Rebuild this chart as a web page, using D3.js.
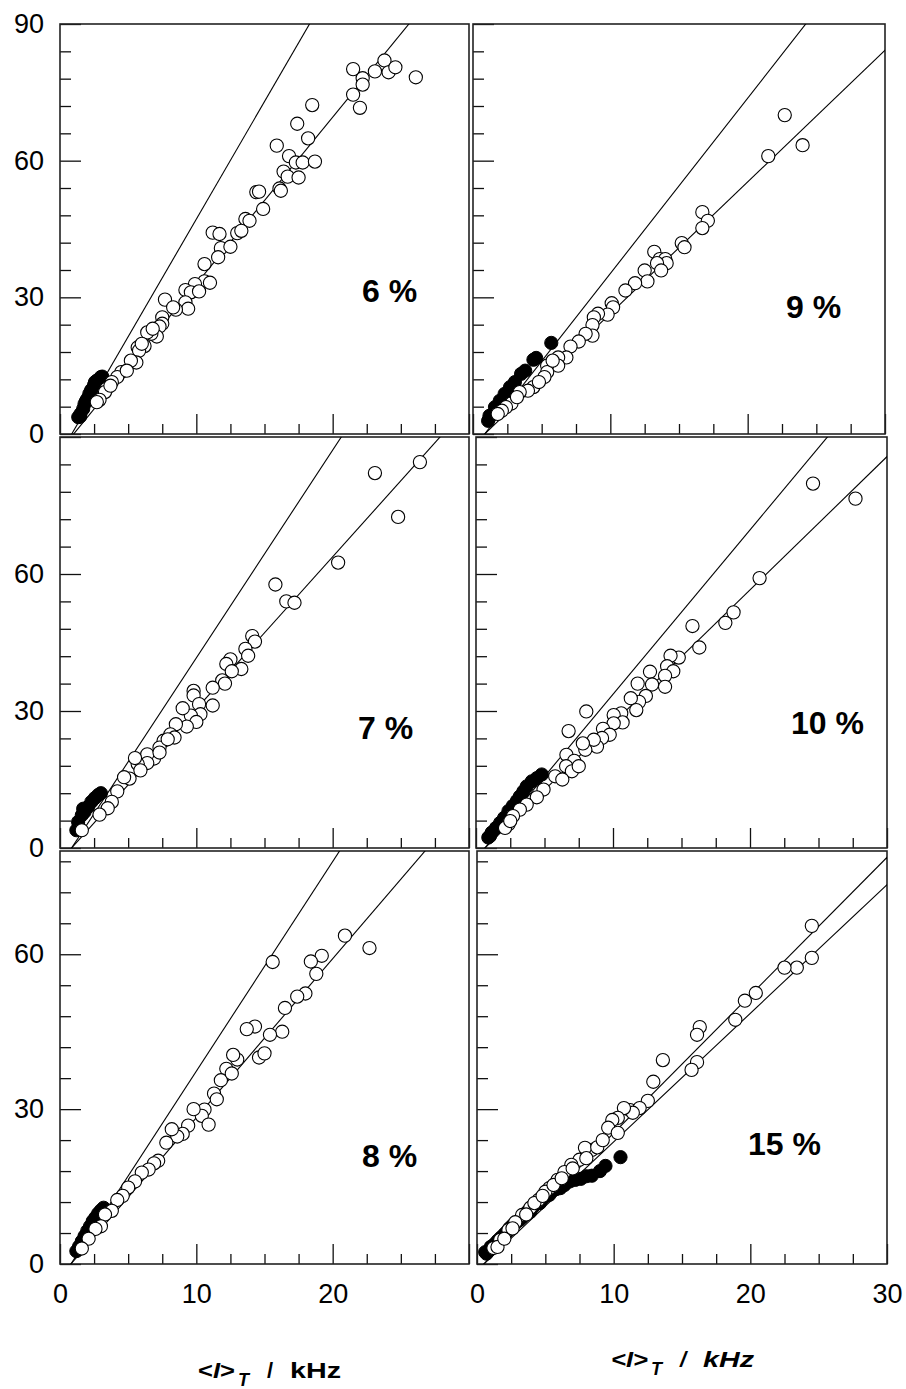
<!DOCTYPE html>
<html><head><meta charset="utf-8">
<script src="https://cdn.jsdelivr.net/npm/d3@7"></script>
<style>body{margin:0;background:#fff}svg{display:block}text{font-family:"Liberation Sans",Arial,Helvetica,sans-serif}</style>
</head><body>
<svg id="c" width="906" height="1389"></svg>
<script>
// ---------- data ----------
const panelLabels = ["6 %", "9 %", "7 %", "10 %", "8 %", "15 %"];
const xTicksMajor = [0, 10, 20, 30];
const yTicksMajor = [0, 30, 60, 90];
const rowYMax = [90, 90, 80];

// lines: y = slope * (x - x0)
const steepSlope   = [5.16, 3.85, 4.55, 3.60, 4.06, 2.67];
const steepX0      = [0.86, 0.85, 0.85, 0.65, 0.80, 0.50];
const shallowSlope = [3.66, 2.89, 3.33, 2.92, 3.08, 2.49];
const shallowX0    = [1.00, 0.85, 0.85, 0.65, 0.80, 0.50];

const open6 = [[21.5,80.1],[22.2,78.1],[22.2,76.7],[23.1,79.6],[23.8,82.0],[24.1,79.4],[24.6,80.5],[26.1,78.3],[21.5,74.5],[22.0,71.6],[18.5,72.2],[17.4,68.1],[18.2,64.9],[15.9,63.3],[16.8,61.0],[17.3,59.6],[17.8,59.6],[18.7,59.8],[16.4,57.6],[16.7,56.5],[17.5,56.3],[16.1,53.9],[16.2,53.4],[14.4,53.1],[14.6,53.2],[14.9,49.4],[13.6,47.2],[13.9,46.8],[13.0,44.1],[13.3,44.6],[11.2,44.2],[11.7,43.9],[11.8,40.8],[12.5,41.1],[11.6,38.8],[10.6,37.3],[10.6,33.5],[11.0,33.2],[9.9,32.9],[9.2,31.6],[9.6,31.1],[10.2,31.3],[7.7,29.5],[9.2,28.9],[9.4,27.5],[8.5,27.3],[8.3,27.8],[7.5,25.6],[7.5,24.2],[7.3,23.6],[7.1,21.4],[6.7,22.0],[6.4,22.3],[6.2,19.3],[5.7,19.0],[5.8,18.3],[5.6,15.7],[5.2,16.1],[4.5,13.6],[4.2,12.5],[3.8,11.4],[3.4,9.9],[3.3,9.2],[2.9,7.5],[3.7,10.6],[2.7,7.0],[4.9,13.9],[6.0,19.8],[6.8,23.1]];
const filled6 = [[1.34,3.7],[1.47,3.8],[1.5,4.4],[1.7,5.5],[1.8,6.6],[1.9,7.2],[2.0,7.7],[2.15,8.8],[2.25,9.3],[2.3,9.7],[2.5,10.8],[2.57,11.4],[2.7,11.7],[2.8,11.9],[3.0,12.5],[3.1,12.6]];

const open9 = [[22.7,70.0],[24.0,63.4],[21.5,61.0],[16.7,48.7],[17.1,46.8],[16.7,45.2],[15.2,41.9],[15.4,41.0],[13.2,40.0],[13.6,38.4],[14.0,38.4],[14.1,37.5],[13.4,37.5],[13.7,35.9],[12.5,35.9],[12.7,33.5],[11.8,33.1],[11.1,31.5],[10.1,28.7],[10.2,27.8],[9.8,26.2],[9.1,26.4],[8.8,25.6],[8.7,23.9],[8.7,21.6],[8.2,22.0],[7.7,20.3],[7.1,19.2],[6.8,16.8],[6.2,16.8],[6.2,15.0],[5.4,15.0],[5.4,13.6],[5.2,12.5],[4.4,10.3],[4.0,9.5],[3.4,9.2],[2.8,6.7],[2.4,5.9],[2.1,5.1],[1.8,4.4],[3.2,8.1],[4.8,11.4],[5.8,16.1]];
const filled9 = [[5.7,20.0],[4.6,16.7],[4.4,16.3],[3.8,13.9],[3.5,13.2],[3.05,11.4],[2.7,10.3],[2.3,8.8],[1.95,7.3],[1.6,5.9],[1.2,4.0],[1.1,2.9]];

const open7 = [[26.4,84.5],[23.1,82.1],[24.8,72.5],[20.4,62.5],[15.8,57.7],[16.6,54.0],[17.2,53.7],[14.1,46.4],[14.3,45.2],[13.6,43.6],[13.8,42.1],[13.3,39.2],[12.5,41.3],[12.2,40.3],[12.6,38.7],[11.9,36.7],[12.1,36.0],[11.2,35.1],[11.2,31.2],[9.8,34.4],[9.8,33.4],[10.2,31.5],[10.3,29.3],[9.6,29.0],[10.0,27.6],[9.0,30.6],[9.3,26.6],[8.5,27.1],[8.1,24.9],[8.4,24.2],[7.6,23.5],[7.3,22.0],[6.9,19.6],[6.4,20.5],[6.4,18.6],[5.7,18.4],[5.5,19.7],[5.9,17.0],[5.1,15.2],[4.7,15.5],[4.2,12.4],[3.8,10.1],[3.5,8.7],[2.9,7.3],[1.6,3.9],[7.3,20.9],[7.9,23.8]];
const filled7 = [[3.0,12.0],[2.8,11.6],[2.55,10.9],[2.3,10.1],[2.06,9.0],[1.8,7.9],[1.6,7.2],[1.33,5.7],[1.2,3.9],[1.7,8.6]];

const open10 = [[24.6,79.8],[27.7,76.5],[20.7,59.1],[18.8,51.6],[18.2,49.3],[15.8,48.6],[16.3,43.9],[14.8,41.7],[14.2,42.1],[13.95,39.8],[14.4,38.7],[13.8,37.7],[13.8,35.3],[12.7,38.6],[12.85,35.8],[11.8,36.0],[12.4,33.3],[11.9,32.0],[11.3,32.8],[11.7,30.2],[10.6,29.5],[10.05,29.1],[10.7,27.5],[10.05,27.3],[8.05,29.9],[6.76,25.6],[9.27,26.1],[9.76,24.8],[9.2,24.1],[8.83,22.2],[8.6,23.7],[7.98,21.5],[7.8,22.9],[6.6,20.4],[7.17,19.1],[6.58,17.9],[7.0,16.8],[7.5,17.9],[5.78,15.7],[6.3,15.0],[4.93,12.8],[4.44,11.1],[3.7,9.5],[3.2,8.4],[2.7,7.0],[2.37,5.2],[2.12,4.4],[2.5,5.9]];
const filled10 = [[4.8,16.1],[4.44,15.3],[4.07,14.6],[3.7,13.5],[3.46,12.4],[3.2,11.3],[2.98,10.3],[2.68,9.2],[2.37,8.1],[2.05,6.6],[1.76,5.5],[1.46,4.4],[1.15,3.4],[1.02,2.6],[0.9,2.3]];

const open8 = [[20.9,63.6],[22.7,61.2],[19.2,59.7],[18.4,58.6],[18.8,56.2],[18.0,52.4],[17.4,51.8],[15.6,58.5],[16.5,49.6],[16.3,45.0],[15.4,44.4],[14.3,46.0],[13.7,45.5],[13.0,39.6],[12.7,40.5],[12.2,37.8],[11.8,35.6],[12.6,36.9],[11.3,33.0],[11.5,31.9],[10.6,29.9],[10.4,28.7],[9.8,30.0],[9.4,26.8],[9.0,25.2],[8.6,24.7],[8.2,26.1],[7.8,23.5],[7.2,20.0],[6.9,19.5],[6.5,18.3],[6.0,17.7],[5.5,16.0],[5.0,14.8],[4.6,13.2],[4.2,12.4],[3.8,10.3],[3.3,9.6],[3.0,7.3],[2.6,6.8],[2.1,4.9],[1.6,3.0],[10.9,27.0],[14.6,40.0],[15.0,40.8]];
const filled8 = [[1.2,2.5],[1.4,3.4],[1.6,4.4],[1.8,5.4],[2.0,6.4],[2.2,7.3],[2.4,8.3],[2.6,9.0],[2.8,9.8],[3.0,10.4],[3.2,10.9]];

const open15 = [[24.5,65.5],[24.5,59.3],[23.4,57.4],[22.5,57.4],[20.4,52.5],[19.6,51.0],[18.9,47.3],[16.3,45.9],[16.1,44.4],[16.1,39.1],[15.7,37.6],[13.6,39.5],[12.9,35.3],[11.2,29.8],[12.5,31.6],[11.9,30.2],[11.4,29.3],[10.75,30.2],[10.3,28.3],[9.9,27.9],[9.6,26.4],[10.3,25.4],[8.4,22.1],[7.9,22.5],[7.5,20.2],[6.9,19.2],[6.4,17.8],[5.9,16.3],[5.3,14.7],[5.0,14.0],[4.5,12.4],[3.9,10.9],[3.3,9.5],[2.8,8.1],[2.3,6.6],[1.7,4.7],[1.2,3.1],[1.5,3.3],[2.0,4.9],[2.6,6.9],[3.6,9.6],[4.2,11.8],[4.8,13.2],[5.6,15.3],[6.2,16.6],[7.0,18.5],[8.0,20.5],[8.8,22.6],[9.2,24.0]];
const filled15 = [[10.5,20.7],[9.4,19.0],[9.0,18.0],[8.4,17.1],[7.2,16.3],[6.1,14.7],[5.3,13.4],[4.6,11.8],[3.9,10.1],[3.1,8.5],[2.4,7.0],[1.7,5.0],[1.0,3.3],[0.6,2.3],[0.7,2.0],[0.9,2.6],[1.1,3.4],[1.3,3.9],[1.5,4.5],[1.8,5.2],[2.0,5.8],[2.2,6.3],[2.6,7.5],[2.8,8.0],[3.3,9.0],[3.5,9.6],[3.7,10.2],[4.1,11.0],[4.3,11.6],[4.8,12.6],[5.0,13.2],[5.5,14.1],[5.8,14.5],[6.4,15.3],[6.8,16.0],[7.6,16.5],[8.0,17.0]];

const openSets = [open6, open9, open7, open10, open8, open15];
const filledSets = [filled6, filled9, filled7, filled10, filled8, filled15];

// ---------- layout ----------
const colLeft = [[60, 473], [60, 476], [60, 477]];
const colRight = [[469, 885], [469, 887], [469, 887]];
const rowTop = [24, 437, 851];
const rowBottom = [434, 848, 1264];
const labelPos = [[362, 302], [786, 318], [358, 739], [791, 734], [362, 1167], [748, 1155]];

const svg = d3.select("#c");
const R = 6.6;

panelLabels.forEach((lab, i) => {
  const row = Math.floor(i / 2), col = i % 2;
  const L = colLeft[row][col], Rt = colRight[row][col], T = rowTop[row], B = rowBottom[row];
  const ymax = rowYMax[row];
  const x = d3.scaleLinear().domain([0, 30]).range([L, Rt]);
  const y = d3.scaleLinear().domain([0, ymax]).range([B, T]);
  const g = svg.append("g");
  const cid = "clip" + i;
  svg.append("clipPath").attr("id", cid).append("rect")
    .attr("x", L).attr("y", T).attr("width", Rt - L).attr("height", B - T);

  const yMinor = d3.range(6, ymax, 6).filter(v => v % 30 !== 0);
  g.append("g").attr("transform", `translate(${L},0)`)
    .call(d3.axisLeft(y).tickValues(yMinor).tickSize(-11).tickFormat(""))
    .call(s => s.select(".domain").remove());
  const yMaj = yTicksMajor.filter(v => v <= ymax);
  const yLab = (col === 0) ? (row === 0 ? [0, 30, 60, 90] : [0, 30, 60]) : [];
  g.append("g").attr("transform", `translate(${L},0)`)
    .call(d3.axisLeft(y).tickValues(yMaj).tickSize(-21).tickPadding(16)
      .tickFormat(v => yLab.includes(v) ? v : ""))
    .call(s => s.select(".domain").remove())
    .call(s => s.selectAll("text").attr("font-size", 27).attr("fill", "#000")
      .style("font-family", '"Liberation Sans",Arial,sans-serif'));

  const xMinor = d3.range(2.5, 30, 2.5).filter(v => v % 10 !== 0);
  g.append("g").attr("transform", `translate(0,${B})`)
    .call(d3.axisBottom(x).tickValues(xMinor).tickSize(-10).tickFormat(""))
    .call(s => s.select(".domain").remove());
  const xLab = row === 2 ? (col === 0 ? [0, 10, 20] : [0, 10, 20, 30]) : [];
  g.append("g").attr("transform", `translate(0,${B})`)
    .call(d3.axisBottom(x).tickValues(xTicksMajor).tickSize(-20).tickPadding(20)
      .tickFormat(v => xLab.includes(v) ? v : ""))
    .call(s => s.select(".domain").remove())
    .call(s => s.selectAll("text").attr("font-size", 27).attr("fill", "#000")
      .style("font-family", '"Liberation Sans",Arial,sans-serif'));
  g.selectAll(".tick line").attr("stroke", "#111").attr("stroke-width", 1.3);

  g.append("rect").attr("x", L).attr("y", T).attr("width", Rt - L).attr("height", B - T)
    .attr("fill", "none").attr("stroke", "#222").attr("stroke-width", 1.6);

  const plot = g.append("g").attr("clip-path", `url(#${cid})`);
  [[steepSlope[i], steepX0[i]], [shallowSlope[i], shallowX0[i]]].forEach(([m, x0]) => {
    const x1 = x0 - 1, x2 = 31;
    plot.append("line")
      .attr("x1", x(x1)).attr("y1", y(m * (x1 - x0)))
      .attr("x2", x(x2)).attr("y2", y(m * (x2 - x0)))
      .attr("stroke", "#000").attr("stroke-width", 1.1);
  });
  plot.selectAll(".f").data(filledSets[i]).join("circle")
    .attr("cx", d => x(d[0])).attr("cy", d => y(d[1])).attr("r", R)
    .attr("fill", "#000").attr("stroke", "#000").attr("stroke-width", 1);
  plot.selectAll(".o").data(openSets[i]).join("circle")
    .attr("cx", d => x(d[0])).attr("cy", d => y(d[1])).attr("r", R)
    .attr("fill", "#fff").attr("stroke", "#000").attr("stroke-width", 1.1);

  g.append("text").attr("x", labelPos[i][0]).attr("y", labelPos[i][1])
    .attr("font-size", 32).attr("font-weight", "bold").attr("fill", "#000")
    .style("white-space", "pre").text(lab);
});

// x axis titles: [x of "<I>", x of "T", x of "/", x of "kHz", baseline, italic]
const titles = [[198, 238, 267, 290, 1378, false], [611, 651, 680, 703, 1367, true]];
titles.forEach(([xa, xt, xs, xk, yb, it]) => {
  const g = svg.append("g").attr("font-weight", "bold").attr("fill", "#000");
  const st = it ? "italic" : "normal";
  const a = g.append("text").attr("x", xa).attr("y", yb).attr("font-size", 22)
    .attr("textLength", 37).attr("lengthAdjust", "spacingAndGlyphs");
  a.append("tspan").attr("font-style", st).text("<");
  a.append("tspan").attr("font-style", "italic").text("I");
  a.append("tspan").attr("font-style", st).text(">");
  g.append("text").attr("x", xt).attr("y", yb + 8).attr("font-size", 18)
    .attr("font-style", "italic").text("T");
  g.append("text").attr("x", xs).attr("y", yb).attr("font-size", 22)
    .attr("font-style", st).text("/");
  g.append("text").attr("x", xk).attr("y", yb).attr("font-size", 22)
    .attr("font-style", st).attr("textLength", 51).attr("lengthAdjust", "spacingAndGlyphs").text("kHz");
});
</script>
</body></html>
